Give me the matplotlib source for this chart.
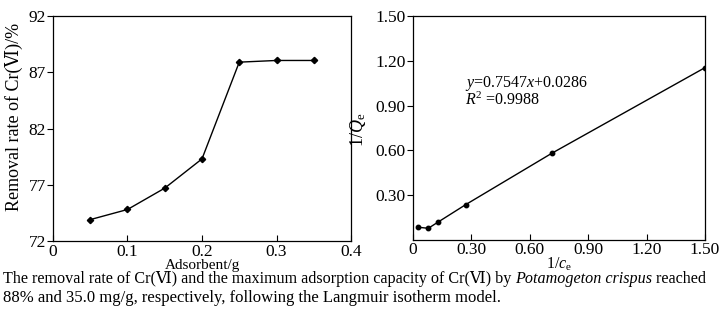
import matplotlib
matplotlib.use('Agg')
from matplotlib import pyplot as plt

# left panel: removal rate vs adsorbent dose
dose = [0.05, 0.10, 0.15, 0.20, 0.25, 0.30, 0.35]
removal = [73.9, 74.8, 76.7, 79.3, 87.9, 88.05, 88.05]

# right panel: Langmuir linear plot
inv_ce = [0.029, 0.080, 0.128, 0.272, 0.714, 1.50]
inv_qe = [0.083, 0.076, 0.116, 0.235, 0.580, 1.155]

fonts = ['Liberation Serif', 'DejaVu Serif', 'Noto Sans CJK SC']
plt.rcParams['font.family'] = fonts
plt.rcParams['mathtext.fontset'] = 'custom'
plt.rcParams['mathtext.rm'] = 'Liberation Serif'
plt.rcParams['mathtext.it'] = 'Liberation Serif:italic'

fig = plt.figure(figsize=(7.19, 3.12), dpi=100)
ax1 = fig.add_axes([0.0737, 0.2276, 0.4145, 0.721])
ax2 = fig.add_axes([0.574, 0.232, 0.4066, 0.716])

ax1.plot(dose, removal, color='black', lw=1.0, marker='D', ms=3.2)
ax1.set_xlim(0, 0.4)
ax1.set_ylim(72, 92)
ax1.set_xticks([0, 0.1, 0.2, 0.3, 0.4])
ax1.set_xticklabels(['0', '0.1', '0.2', '0.3', '0.4'])
ax1.set_yticks([72, 77, 82, 87, 92])
ax1.set_ylabel('Removal rate of Cr(Ⅵ)/%', fontsize=13)
ax1.yaxis.set_label_coords(-0.1, 0.551)
ax1.set_xlabel('Adsorbent/g', fontsize=11, va='center')
ax1.xaxis.set_label_coords(0.5, -0.108)

ax2.plot(inv_ce, inv_qe, color='black', lw=1.0, marker='o', ms=3.2)
ax2.set_xlim(0, 1.5)
ax2.set_ylim(0, 1.5)
ax2.set_xticks([0, 0.3, 0.6, 0.9, 1.2, 1.5])
ax2.set_xticklabels(['0', '0.30', '0.60', '0.90', '1.20', '1.50'])
ax2.set_yticks([0.3, 0.6, 0.9, 1.2, 1.5])
ax2.set_yticklabels(['0.30', '0.60', '0.90', '1.20', '1.50'])
ax2.set_ylabel('1/$Q_\\mathrm{e}$', fontsize=13)
ax2.yaxis.set_label_coords(-0.153, 0.49)
ax2.set_xlabel('1/$c_\\mathrm{e}$', fontsize=11.5, va='center')
ax2.xaxis.set_label_coords(0.5, -0.11)
ax2.text(0.27, 1.05, '$y$=0.7547$x$+0.0286', fontsize=11.5, va='center')
ax2.text(0.27, 0.935, '$R^2$ =0.9988', fontsize=11.5, va='center')

for ax in (ax1, ax2):
    ax.tick_params(axis='x', direction='in', length=4, width=0.8,
                   labelsize=12.5, pad=2)
    ax.tick_params(axis='y', direction='out', length=4, width=0.8,
                   labelsize=12.5, pad=1)
    for s in ax.spines.values():
        s.set_linewidth(0.9)

# caption, built from pieces so the italic name sits inline
cap = 11.65
t1 = fig.text(0.004, 0.105, 'The removal rate of Cr(Ⅵ) and the maximum '
              'adsorption capacity of Cr(Ⅵ) by ', fontsize=cap, va='center')
t2 = ax2.annotate('Potamogeton crispus', xy=(1, 0), xycoords=t1,
                  va='bottom', fontsize=cap, style='italic',
                  annotation_clip=False)
ax2.annotate(' reached', xy=(1, 0), xycoords=t2, va='bottom', fontsize=cap,
             annotation_clip=False)
fig.text(0.004, 0.044, '88% and 35.0 mg/g, respectively, following the '
         'Langmuir isotherm model.', fontsize=12, va='center')

fig.savefig('out.png', dpi=100)
